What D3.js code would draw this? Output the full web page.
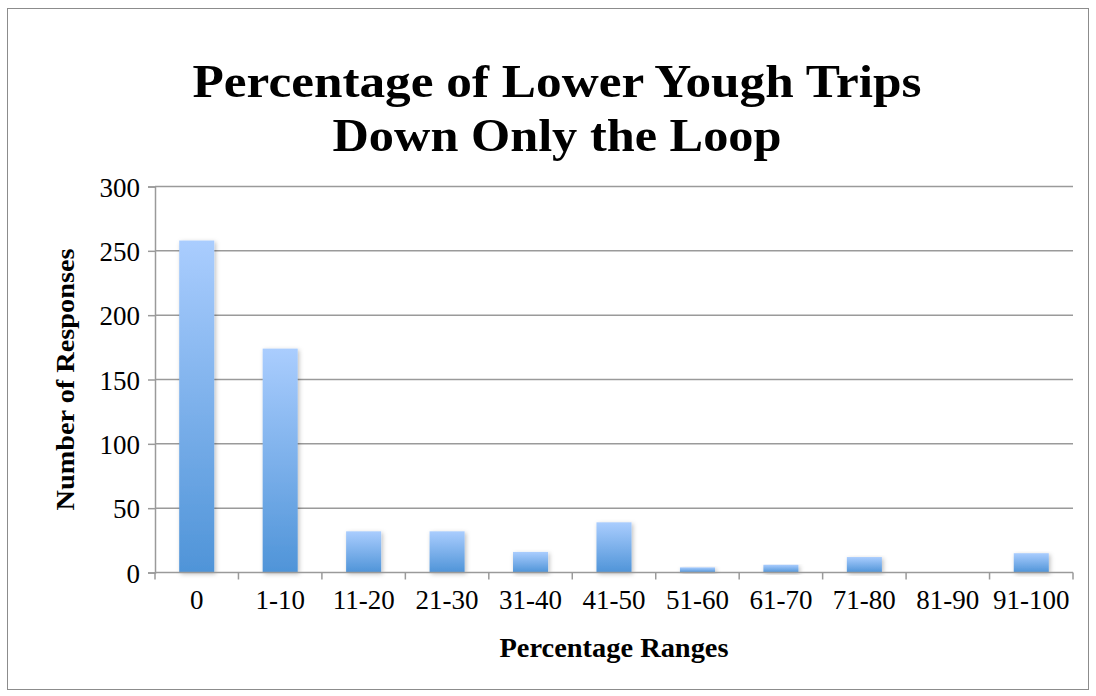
<!DOCTYPE html>
<html><head><meta charset="utf-8">
<script src="https://cdn.jsdelivr.net/npm/d3@7"></script>
<style>body{margin:0;background:#fff}svg{display:block}</style>
</head><body>
<svg id="chart" width="1096" height="696"></svg>
<script>
const categories = ["0","1-10","11-20","21-30","31-40","41-50","51-60","61-70","71-80","81-90","91-100"];
const responses = [258,174,32,32,16,39,4,6,12,0,15];
const yTicks = [0,50,100,150,200,250,300];
const titleLines = ["Percentage of Lower Yough Trips","Down Only the Loop"];
const xTitle = "Percentage Ranges";
const yTitle = "Number of Responses";

const svg = d3.select("#chart");
const m = {left:155, right:1073, top:186.5, bottom:572.5};
const serif = "'Liberation Serif','DejaVu Serif',serif";

svg.append("rect").attr("x",7.5).attr("y",8.5).attr("width",1081).attr("height",681)
  .attr("fill","#fff").attr("stroke","#8c8c8c").attr("stroke-width",1);

const defs = svg.append("defs");
const g = defs.append("linearGradient").attr("id","barGrad").attr("x1",0).attr("y1",0).attr("x2",0).attr("y2",1);
g.append("stop").attr("offset","0%").attr("stop-color","#aacdfe");
g.append("stop").attr("offset","100%").attr("stop-color","#4f94d8");
const f = defs.append("filter").attr("id","shadow").attr("x","-30%").attr("y","-10%").attr("width","160%").attr("height","130%");
f.append("feDropShadow").attr("dx",1.5).attr("dy",1.5).attr("stdDeviation",2).attr("flood-color","#000").attr("flood-opacity",0.25);

const x = d3.scaleBand().domain(categories).range([m.left,m.right]).padding(0);
const y = d3.scaleLinear().domain([0,300]).range([m.bottom,m.top]);

// gridlines
svg.append("g").selectAll("line").data(yTicks.filter(d=>d>0)).join("line")
  .attr("x1",m.left).attr("x2",m.right).attr("y1",d=>y(d)).attr("y2",d=>y(d))
  .attr("stroke","#9a9a9a").attr("stroke-width",1.5);

// y axis
const yAxis = svg.append("g").attr("transform",`translate(${m.left},0)`)
  .call(d3.axisLeft(y).tickValues(yTicks).tickSize(7).tickPadding(8));
yAxis.select(".domain").attr("stroke","#9a9a9a").attr("stroke-width",1.5);
yAxis.selectAll(".tick line").attr("stroke","#9a9a9a").attr("stroke-width",1.5);
yAxis.selectAll("text").attr("font-family",serif).attr("font-size",27).attr("fill","#000").attr("dy","0.36em");

// bars
const bw = x.bandwidth();
svg.append("g").selectAll("rect").data(responses).join("rect")
  .attr("x",(d,i)=>x(categories[i])+bw*0.29)
  .attr("width",bw*0.42)
  .attr("y",d=>y(d))
  .attr("height",d=>y(0)-y(d))
  .attr("fill","url(#barGrad)")
  .attr("filter","url(#shadow)")
  .style("display",d=>d>0?null:"none");

// x axis
const xAxis = svg.append("g").attr("transform",`translate(0,${m.bottom})`)
  .call(d3.axisBottom(x).tickSize(0).tickPadding(0));
xAxis.select(".domain").remove();
xAxis.selectAll(".tick line").remove();
xAxis.selectAll("text").attr("font-family",serif).attr("font-size",27).attr("fill","#000")
  .attr("dy",null).attr("y",36);
svg.append("line").attr("x1",m.left).attr("x2",m.right).attr("y1",m.bottom).attr("y2",m.bottom)
  .attr("stroke","#9a9a9a").attr("stroke-width",1.5);
const bounds = categories.map(c=>x(c)).concat([m.right]);
svg.append("g").selectAll("line").data(bounds).join("line")
  .attr("x1",d=>d).attr("x2",d=>d).attr("y1",m.bottom).attr("y2",m.bottom+7)
  .attr("stroke","#9a9a9a").attr("stroke-width",1.5);

// titles
const titleLen = [729, 449];
svg.append("g").selectAll("text").data(titleLines).join("text")
  .attr("x",557).attr("y",(d,i)=>97+i*54)
  .attr("text-anchor","middle").attr("font-family",serif).attr("font-weight","bold")
  .attr("font-size",47).attr("fill","#000")
  .attr("textLength",(d,i)=>titleLen[i]).attr("lengthAdjust","spacingAndGlyphs")
  .text(d=>d);

svg.append("text").attr("x",(m.left+m.right)/2).attr("y",657)
  .attr("text-anchor","middle").attr("font-family",serif).attr("font-weight","bold")
  .attr("font-size",27).attr("fill","#000")
  .attr("textLength",229).attr("lengthAdjust","spacingAndGlyphs").text(xTitle);

svg.append("text").attr("transform",`translate(74,${(m.top+m.bottom)/2}) rotate(-90)`)
  .attr("text-anchor","middle").attr("font-family",serif).attr("font-weight","bold")
  .attr("font-size",26).attr("fill","#000")
  .attr("textLength",262).attr("lengthAdjust","spacingAndGlyphs").text(yTitle);
</script>
</body></html>
